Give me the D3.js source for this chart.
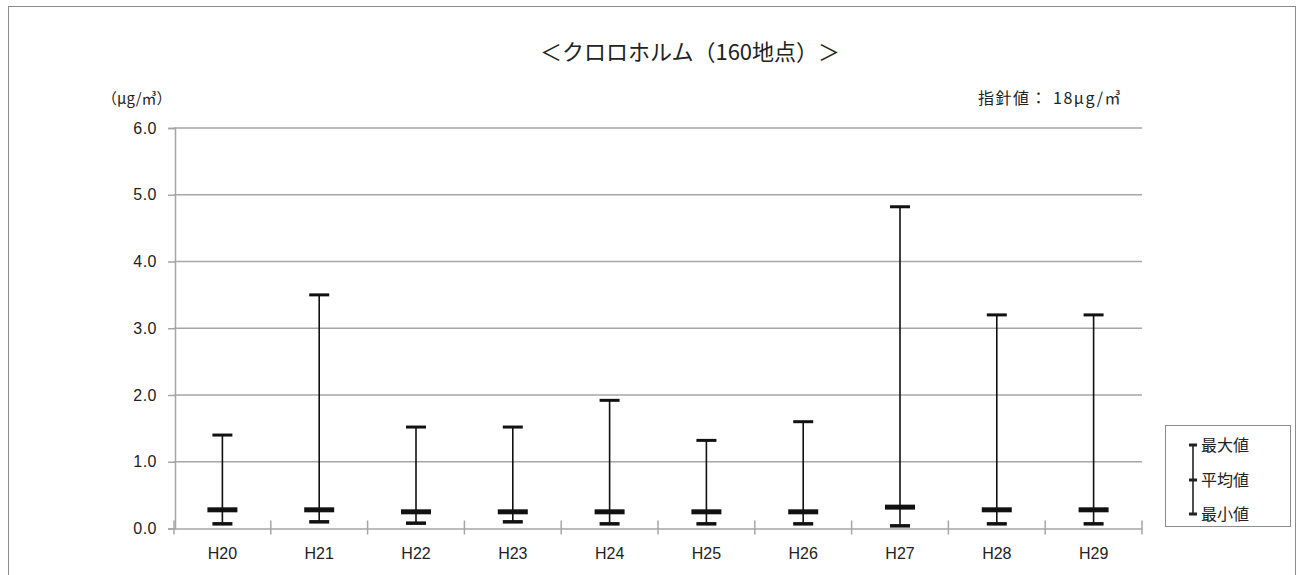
<!DOCTYPE html>
<html><head><meta charset="utf-8">
<script src="https://cdn.jsdelivr.net/npm/d3@7"></script>
<style>
html,body{margin:0;padding:0;background:#fff;}
svg{display:block;font-family:"Noto Sans CJK JP","Noto Sans",sans-serif;}
</style></head>
<body><svg id="c" width="1304" height="575"></svg>
<script>
const categories = ["H20","H21","H22","H23","H24","H25","H26","H27","H28","H29"];
const maxValues  = [1.4, 3.5, 1.52, 1.52, 1.92, 1.32, 1.6, 4.82, 3.2, 3.2];
const meanValues = [0.28, 0.28, 0.25, 0.25, 0.25, 0.25, 0.25, 0.32, 0.28, 0.28];
const minValues  = [0.07, 0.1, 0.08, 0.1, 0.07, 0.07, 0.07, 0.04, 0.07, 0.07];
const yTicks = [0, 1, 2, 3, 4, 5, 6];
const titleText = "＜クロロホルム（160地点）＞";
const unitText = "（µg/㎥）";
const guideText = "指針値： 18µg/㎥";
const legendLabels = ["最大値", "平均値", "最小値"];

const svg = d3.select("#c");
const L = 174, R = 1142, T = 128, B = 528.5;

svg.append("rect").attr("x",8.5).attr("y",6.5).attr("width",1287).attr("height",600)
  .attr("fill","none").attr("stroke","#8c8c8c").attr("stroke-width",1);

const x = d3.scaleBand().domain(categories).range([L, R]);
const y = d3.scaleLinear().domain([0, 6]).range([B, T]);

// gridlines
svg.append("g").selectAll("line").data(yTicks.filter(d=>d>0)).join("line")
  .attr("x1", L).attr("x2", R).attr("y1", d=>y(d)).attr("y2", d=>y(d))
  .attr("stroke","#a6a6a6").attr("stroke-width",1.5);

// y axis
const yAxis = svg.append("g").attr("transform",`translate(${L+1},0)`)
  .call(d3.axisLeft(y).tickValues(yTicks).tickFormat(d3.format(".1f")).tickSize(7).tickPadding(11));
yAxis.select(".domain").attr("stroke","#a6a6a6").attr("stroke-width",1.5);
yAxis.selectAll(".tick line").attr("stroke","#a6a6a6").attr("stroke-width",1.5);
yAxis.selectAll("text").attr("font-size",16).attr("fill","#222").attr("letter-spacing",0.5);

// x axis
const xAxis = svg.append("g").attr("transform",`translate(0,${B})`)
  .call(d3.axisBottom(x).tickSize(0).tickPadding(19));
xAxis.select(".domain").attr("stroke","#a6a6a6").attr("stroke-width",1.5);
xAxis.selectAll("text").attr("font-size",16).attr("fill","#222");
// category boundary ticks
const bounds = categories.map(c=>x(c)).concat([R]);
svg.append("g").selectAll("line").data(bounds).join("line")
  .attr("x1",d=>d).attr("x2",d=>d).attr("y1",B-8).attr("y2",B+6)
  .attr("stroke","#a6a6a6").attr("stroke-width",1.5);

// range bars
const g = svg.append("g");
categories.forEach((c,i)=>{
  const cx = x(c) + x.bandwidth()/2;
  g.append("line").attr("x1",cx).attr("x2",cx).attr("y1",y(maxValues[i])).attr("y2",y(minValues[i]))
    .attr("stroke","#111").attr("stroke-width",1.6);
  g.append("line").attr("x1",cx-10).attr("x2",cx+10).attr("y1",y(maxValues[i])).attr("y2",y(maxValues[i]))
    .attr("stroke","#111").attr("stroke-width",3);
  g.append("line").attr("x1",cx-15).attr("x2",cx+15).attr("y1",y(meanValues[i])).attr("y2",y(meanValues[i]))
    .attr("stroke","#111").attr("stroke-width",5);
  g.append("line").attr("x1",cx-10).attr("x2",cx+10).attr("y1",y(minValues[i])).attr("y2",y(minValues[i]))
    .attr("stroke","#111").attr("stroke-width",3.5);
});

// texts
svg.append("text").attr("x",690).attr("y",60).attr("text-anchor","middle")
  .attr("font-size",22).attr("fill","#222").text(titleText);
svg.append("text").attr("x",102).attr("y",104).attr("font-size",15).attr("fill","#222").text(unitText);
svg.append("text").attr("x",978).attr("y",104).attr("font-size",16).attr("letter-spacing",1.5)
  .attr("fill","#222").text(guideText);

// legend
const lg = svg.append("g");
lg.append("rect").attr("x",1165.5).attr("y",425.5).attr("width",125).attr("height",101)
  .attr("fill","#fff").attr("stroke","#8c8c8c").attr("stroke-width",1);
const ly = [445, 480, 514];
lg.append("line").attr("x1",1193).attr("x2",1193).attr("y1",ly[0]).attr("y2",ly[2])
  .attr("stroke","#222").attr("stroke-width",1.6);
ly.forEach((yy,i)=>{
  lg.append("line").attr("x1",1189).attr("x2",1197).attr("y1",yy).attr("y2",yy)
    .attr("stroke","#222").attr("stroke-width",3);
  lg.append("text").attr("x",1201).attr("y",yy+6).attr("font-size",16).attr("fill","#222").text(legendLabels[i]);
});
</script></body></html>
